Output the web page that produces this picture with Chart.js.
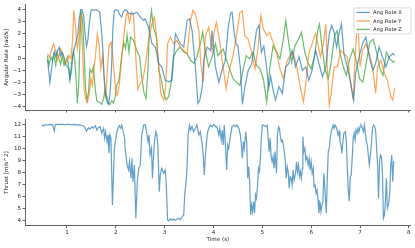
<!DOCTYPE html>
<html>
<head>
<meta charset="utf-8">
<script src="https://cdn.jsdelivr.net/npm/chart.js@4.4.0/dist/chart.umd.min.js"></script>
<style>
  html, body { margin: 0; padding: 0; background: #fff; }
  #wrap { position: relative; width: 415px; height: 248px; }
  #topBox { position: absolute; left: 0; top: 0; }
  #botBox { position: absolute; left: 0; top: 114px; }
</style>
</head>
<body>
<div id="wrap">
  <div id="topBox"><canvas id="rateChart" width="415" height="116"></canvas></div>
  <div id="botBox"><canvas id="thrustChart" width="415" height="134"></canvas></div>
</div>
<script>
// angular rate X (rad/s)
const rateXTime = [0.60,0.63,0.65,0.68,0.71,0.74,0.77,0.80,0.84,0.87,0.90,0.94,0.97,1.01,1.04,1.06,1.09,1.12,1.15,1.18,1.22,1.25,1.28,1.31,1.34,1.37,1.40,1.43,1.46,1.49,1.52,1.56,1.60,1.64,1.67,1.70,1.73,1.76,1.79,1.82,1.85,1.88,1.91,1.94,1.97,2.00,2.04,2.08,2.12,2.15,2.19,2.23,2.27,
  2.36,2.43,2.50,2.57,2.60,2.67,2.74,2.81,2.88,2.94,3.01,3.08,3.15,3.22,3.32,3.39,3.46,3.51,3.56,3.63,3.68,3.72,3.77,3.80,3.87,3.94,3.97,4.04,
  4.11,4.18,4.24,4.30,4.35,4.38,4.42,4.46,4.50,4.55,4.59,4.64,4.71,4.78,4.83,4.88,4.93,4.98,5.03,5.08,5.13,5.17,
  5.22,5.27,5.34,5.41,5.48,5.54,5.61,5.68,5.75,5.82,5.89,5.95,6.02,6.09,6.16,6.23,6.30,6.37,6.42,6.47,6.52,6.57,6.62,6.67,6.74,6.81,6.87,6.91,6.98,7.05,7.12,7.19,7.26,7.32,7.39,7.46,7.53,7.60,7.67,7.71];
const rateX = [-0.1,-1.2,-2.0,-1.0,0.0,0.5,0.1,0.6,0.9,0.2,0.5,0.1,-0.5,-0.7,-0.9,-1.7,-1.1,0.2,0.8,1.3,1.9,3.2,4.0,4.0,3.5,2.0,1.0,1.6,3.0,3.9,4.0,3.95,4.0,3.9,3.8,2.5,1.0,-1.5,-3.0,-3.6,-3.8,-3.0,-1.0,2.5,3.9,4.0,3.95,3.6,3.4,3.8,4.0,3.9,3.7,
  3.66,3.79,3.38,3.11,3.25,2.56,1.2,0.92,-0.44,-0.71,-1.81,-1.94,-1.81,2.02,1.2,0.92,3.11,3.25,2.29,-0.71,-3.72,-3.45,-2.35,-0.17,0.92,0.65,2.29,-0.71,
  -2.0,-0.9,-0.2,2.5,3.7,3.8,2.2,1.2,1.0,-0.8,-3.8,-2.4,-1.0,-0.5,0.8,2.3,2.7,0.5,1.0,-0.5,-2.5,-1.5,
  -2.63,-3.45,-2.35,-2.9,-0.71,-0.44,0.65,-0.71,0.11,-0.99,-0.71,-1.81,-0.99,0.65,-0.44,-1.53,-0.71,2.02,2.7,2.15,0.92,2.02,2.84,0.38,-0.71,-2.08,-3.45,-1.26,0.11,1.2,1.74,0.11,-0.99,-0.44,0.92,0.11,-0.71,0.11,0.38,0.24];

// angular rate Y (rad/s)
const rateYTime = [0.60,0.64,0.67,0.71,0.73,0.77,0.80,0.84,0.87,0.90,0.94,0.97,1.01,1.04,1.08,1.11,1.14,1.18,1.21,1.25,1.28,1.32,1.35,1.38,1.42,1.45,1.49,1.52,1.55,1.59,1.62,1.66,1.69,1.73,1.76,1.79,1.83,1.86,1.90,1.93,1.97,2.00,2.03,2.07,2.10,2.14,2.17,2.21,2.24,2.28,
  2.32,2.36,2.39,2.42,2.45,2.50,2.55,2.60,2.67,2.74,2.79,2.83,2.88,2.92,2.98,3.02,3.06,3.12,3.18,3.25,3.32,3.39,3.46,3.53,3.58,3.63,3.70,3.74,3.79,3.83,3.90,3.97,4.02,
  4.06,4.13,4.20,4.26,4.33,4.40,4.47,4.54,4.59,4.64,4.71,4.78,4.85,4.91,4.97,5.02,5.09,5.15,5.22,5.29,5.36,5.43,5.50,5.56,5.63,5.70,5.77,5.84,
  5.89,5.95,6.02,6.09,6.13,6.19,6.25,6.30,6.33,6.37,6.41,6.47,6.54,6.60,6.67,6.74,6.81,6.86,6.89,6.93,6.96,7.00,7.05,7.12,7.19,7.26,7.32,7.36,7.43,7.50,7.56,7.63,7.67,7.71];
const rateY = [0.35,0.08,0.49,1.04,1.18,0.49,-0.19,0.22,0.76,0.49,-0.05,-0.46,-0.19,0.22,-0.05,1.31,3.95,2.4,0.76,1.86,3.77,0.49,-2.51,-3.33,-3.61,-3.06,-1.69,-2.24,-0.87,0.49,1.99,1.04,-0.87,0.22,-1.69,-3.3,-0.87,1.04,1.31,0.49,-1.42,-2.92,-3.06,-2.24,-0.87,0.76,1.99,3.5,3.77,2.95,
  3.8,3.6,1.5,-0.7,-2.6,-2.08,-1.81,-0.71,1.47,2.84,3.38,2.02,-0.71,-2.9,-3.45,-2.35,1.2,1.74,1.2,1.47,0.92,0.65,0.38,3.11,3.95,3.66,2.29,-0.44,-1.94,1.74,2.56,0.65,2.3,
  2.95,1.31,-0.87,-2.51,-0.87,0.22,1.86,3.77,3.91,1.86,1.58,0.49,-0.87,0.76,3.5,2.4,1.86,2.13,1.31,0.49,-0.87,-1.69,-0.33,0.22,0.49,-0.6,-2.24,-3.61,
  -2.08,0.38,1.2,2.02,1.33,0.11,1.2,2.8,-0.71,-3.86,-2.9,-0.71,-0.71,0.65,0.38,0.11,-2.08,-3.45,-0.71,2.02,2.84,-0.71,0.65,1.2,0.38,-0.71,-2.9,-0.71,-0.17,-1.26,-1.81,-3.17,-3.45,-2.49];

// angular rate Z (rad/s)
const rateZTime = [0.60,0.63,0.67,0.70,0.73,0.77,0.80,0.84,0.87,0.90,0.94,0.97,1.01,1.04,1.06,1.09,1.13,1.16,1.19,1.21,1.24,1.27,1.29,1.32,1.35,1.38,1.41,1.44,1.47,1.51,1.54,1.58,1.61,1.64,1.68,1.71,1.75,1.78,1.81,1.85,1.88,1.92,1.95,1.99,2.02,2.06,2.09,2.12,2.16,2.20,2.23,2.27,
  2.30,2.36,2.43,2.49,2.53,2.58,2.62,2.66,2.69,2.73,2.77,2.83,2.88,2.92,2.98,3.03,3.08,3.13,3.18,3.25,3.32,3.39,3.46,3.53,3.60,3.66,3.73,3.78,3.83,3.90,3.97,4.04,
  4.09,4.20,4.26,4.33,4.40,4.47,4.54,4.61,4.67,4.74,4.81,4.88,4.95,5.02,5.09,5.15,5.22,5.29,5.36,5.43,5.48,5.53,5.60,5.67,5.74,5.80,
  5.87,5.93,6.00,6.07,6.14,6.17,6.22,6.28,6.35,6.41,6.48,6.53,6.59,6.65,6.72,6.79,6.86,6.93,6.99,7.06,7.13,7.20,7.27,7.34,7.41,7.47,7.54,7.61,7.68,7.71];
const rateZ = [0.2,-0.6,0.1,-0.2,0.3,-0.6,0.5,-0.1,-0.5,0.2,-0.6,-0.3,0.1,-1.1,-1.8,-0.5,0.6,-0.2,-2.0,-3.7,-2.2,2.0,3.9,3.0,0.5,-2.5,-3.5,-2.8,-0.9,-1.2,-0.7,-2.6,-3.5,-3.6,-3.7,-3.8,-3.3,-2.6,-3.1,-3.7,-3.8,-3.5,-3.7,-3.1,-2.2,-1.9,-0.9,0.2,1.3,0.8,1.9,0.5,
  1.74,1.47,0.65,0.11,-1.53,-2.9,-3.31,-0.71,2.56,3.93,2.56,1.74,-0.99,-1.53,-2.9,-3.45,-3.17,-2.08,0.11,0.65,0.92,0.52,0.38,-0.17,-0.44,0.11,1.2,2.15,0.65,-0.71,0.11,1.2,
  0.22,0.76,-0.05,-0.87,-1.69,-1.97,-2.24,-0.87,0.22,-0.05,0.49,-0.6,-0.87,-1.69,-3.61,-0.87,1.04,0.49,-0.05,1.58,3.09,1.58,-0.33,1.04,1.58,2.13,
  0.49,-0.33,-0.87,0.22,2.4,2.81,1.04,-0.87,-1.69,-0.33,1.86,2.27,0.49,-0.6,-1.42,-0.05,0.76,-0.33,-1.69,-1.97,-0.33,1.31,1.58,0.49,-0.87,-1.42,0.49,-0.05,-0.33,-0.19];

// thrust trace (m/s^2)
const thrustTime = [0.48,0.52,0.56,0.60,0.65,0.70,0.74,0.76,0.80,0.85,0.90,0.95,1.00,1.05,1.10,1.15,1.20,1.25,1.30,1.35,1.40,1.44,1.47,1.51,1.54,1.58,1.61,1.64,1.68,1.71,1.75,1.77,1.79,1.82,1.84,1.86,1.88,1.90,1.93,1.97,2.00,2.03,2.07,2.10,2.12,2.16,2.18,2.19,2.23,2.26,2.28,2.31,2.33,2.35,2.38,2.41,2.44,2.47,2.50,2.53,2.57,2.60,2.64,2.66,2.68,2.70,2.73,2.75,2.77,2.79,2.82,2.84,2.86,2.89,2.91,2.94,2.98,3.01,3.03,3.06,3.08,3.12,3.15,3.18,3.22,3.25,3.29,3.32,3.36,3.39,3.41,3.44,3.46,3.48,3.51,3.53,3.56,3.59,3.63,3.66,3.70,3.73,3.77,3.79,3.81,3.83,3.87,3.90,3.94,3.97,4.01,4.04,4.07,4.11,4.13,4.16,4.18,4.20,4.22,4.24,4.27,4.29,4.31,4.35,4.38,4.42,4.45,4.48,4.52,4.55,4.57,4.59,4.61,4.63,4.66,4.68,4.70,4.72,4.74,4.76,4.78,4.80,4.82,4.84,4.86,4.88,4.90,4.92,4.94,4.96,4.98,5.00,5.03,5.07,5.10,5.12,5.14,5.16,5.18,5.20,5.22,5.24,5.26,5.29,5.31,5.33,5.35,5.37,5.39,5.41,5.43,5.45,5.47,5.49,5.51,5.53,5.55,5.57,5.59,5.61,5.63,5.65,5.68,5.70,5.72,5.74,5.76,5.78,5.80,5.82,5.83,5.85,5.87,5.89,5.91,5.94,5.96,5.98,6.00,6.02,6.04,6.06,6.08,6.10,6.12,6.14,6.16,6.18,6.20,6.22,6.24,6.26,6.28,6.31,6.33,6.35,6.37,6.39,6.41,6.43,6.45,6.47,6.49,6.51,6.53,6.55,6.57,6.59,6.61,6.63,6.65,6.67,6.70,6.72,6.74,6.76,6.78,6.80,6.82,6.84,6.86,6.88,6.90,6.92,6.94,6.96,6.98,7.00,7.02,7.05,7.07,7.09,7.11,7.13,7.15,7.17,7.19,7.22,7.24,7.26,7.28,7.30,7.32,7.34,7.36,7.38,7.40,7.42,7.44,7.46,7.48,7.50,7.52,7.54,7.56,7.59,7.61,7.63,7.65,7.67,7.69,7.70];
const thrustValue = [11.95,11.85,11.97,11.93,12.0,11.98,11.45,11.98,12.0,12.0,12.0,11.98,12.0,12.0,11.95,12.0,11.93,11.97,11.9,11.85,11.45,11.72,11.61,11.81,11.67,11.89,11.53,11.72,11.81,11.26,11.67,10.84,11.39,10.57,11.12,9.6,11.12,10.84,5.33,10.0,10.84,11.53,11.89,11.67,11.94,11.26,10.84,10.0,8.64,8.22,8.91,7.54,9.19,7.26,8.64,4.23,7.26,8.36,8.64,11.12,11.94,12.0,11.12,10.57,11.12,9.46,10.0,7.54,9.19,10.57,11.39,11.12,10.29,6.43,7.81,8.36,7.95,8.22,7.26,4.09,4.0,4.17,4.06,4.17,4.06,4.15,4.23,4.12,4.37,4.5,6.16,7.26,8.64,11.12,11.94,11.53,11.81,11.39,11.67,11.94,11.12,11.39,10.29,9.46,7.81,9.19,11.12,11.67,11.94,11.81,12.0,11.8,11.81,11.12,11.67,10.7,11.53,10.29,11.94,10.57,8.22,10.29,10.0,11.12,11.81,11.94,11.81,11.94,11.67,11.12,10.29,9.19,10.57,10.0,11.39,10.57,7.54,8.5,7.26,4.5,5.33,4.78,5.61,4.64,6.16,5.88,6.85,8.36,8.09,9.19,10.98,11.94,11.94,11.81,11.94,10.84,9.74,10.84,9.33,8.91,9.33,8.36,9.74,7.95,11.12,11.81,11.67,10.98,10.57,10.7,10.29,9.74,8.91,7.54,8.5,8.09,6.71,7.67,7.54,6.98,8.22,7.4,7.95,8.91,8.09,8.64,7.67,8.09,7.54,8.36,10.98,9.74,10.0,9.05,9.33,8.64,9.19,8.22,8.91,7.95,8.36,6.85,6.98,6.3,6.57,5.75,4.64,5.61,4.78,5.33,5.61,7.95,6.71,4.64,7.54,9.74,10.0,10.84,11.39,11.67,11.94,11.67,11.94,11.81,11.53,11.12,11.39,10.57,10.29,9.6,10.57,11.26,11.39,10.57,8.36,6.57,5.61,7.67,7.81,9.19,10.84,11.26,10.7,11.53,11.26,11.67,11.39,11.81,11.94,11.67,11.39,11.94,11.26,10.57,10.29,9.46,8.64,9.74,10.84,11.81,11.94,11.81,11.53,10.0,8.64,5.88,8.91,9.46,9.33,7.81,4.23,4.5,5.61,7.54,5.06,5.47,6.43,8.64,9.46,7.26,8.91,8.91];

const timeTicks = [1, 2, 3, 4, 5, 6, 7, 8];
const rateTicks = [-4, -3, -2, -1, 0, 1, 2, 3, 4];
const thrustTicks = [4, 5, 6, 7, 8, 9, 10, 11, 12];

const seriesNames = ['Ang Rate X', 'Ang Rate Y', 'Ang Rate Z'];
const seriesColors = ['rgba(31,119,180,0.7)', 'rgba(255,127,14,0.7)', 'rgba(44,160,44,0.7)'];

const textColor = '#262626';
const axisColor = '#3a3a3a';
const tickFont = { family: 'DejaVu Sans', size: 5.6 };

function minusFmt(v) {
  return v < 0 ? '\u2212' + Math.abs(v) : String(v);
}

function pairs(xs, ys) {
  return xs.map((x, i) => ({ x: x, y: ys[i] }));
}

function lineSet(label, xs, ys, color) {
  return {
    label: label,
    data: pairs(xs, ys),
    borderColor: color,
    borderWidth: 1.2,
    pointRadius: 0,
    tension: 0,
    fill: false
  };
}

function axisGrid() {
  return { display: true, drawOnChartArea: false, drawTicks: true, tickLength: 2.5, color: axisColor, lineWidth: 0.8 };
}

// legend box drawn inside the plot, top right (matplotlib style)
const innerLegend = {
  id: 'innerLegend',
  afterDraw(chart) {
    const ctx = chart.ctx;
    const area = chart.chartArea;
    const w = 57, h = 26;
    const x = area.right - w + 0.2, y = area.top + 3;
    ctx.save();
    ctx.beginPath();
    ctx.roundRect(x, y, w, h, 1.5);
    ctx.fillStyle = 'rgba(255,255,255,0.85)';
    ctx.fill();
    ctx.strokeStyle = '#d0d0d0';
    ctx.lineWidth = 0.8;
    ctx.stroke();
    ctx.font = '5.2px "DejaVu Sans"';
    ctx.textBaseline = 'middle';
    chart.data.datasets.forEach((ds, i) => {
      const ry = y + 4.6 + i * 8.5;
      ctx.beginPath();
      ctx.moveTo(x + 2.5, ry);
      ctx.lineTo(x + 16, ry);
      ctx.strokeStyle = ds.borderColor;
      ctx.lineWidth = 1.3;
      ctx.stroke();
      ctx.fillStyle = textColor;
      ctx.fillText(ds.label, x + 19, ry + 0.3);
    });
    ctx.restore();
  }
};

new Chart(document.getElementById('rateChart'), {
  type: 'line',
  data: {
    datasets: [
      lineSet(seriesNames[0], rateXTime, rateX, seriesColors[0]),
      lineSet(seriesNames[1], rateYTime, rateY, seriesColors[1]),
      lineSet(seriesNames[2], rateZTime, rateZ, seriesColors[2])
    ]
  },
  options: {
    responsive: false,
    animation: false,
    devicePixelRatio: 1,
    layout: { padding: { left: 0, right: 4.2, top: 4.1, bottom: 0 } },
    plugins: { legend: { display: false }, tooltip: { enabled: false } },
    scales: {
      x: {
        type: 'linear', min: 0.14, max: 8.04,
        afterBuildTicks: s => { s.ticks = timeTicks.map(v => ({ value: v })); },
        afterFit: s => { s.height = 6; },
        grid: axisGrid(),
        border: { display: true, color: axisColor, width: 0.8 },
        ticks: { display: false }
      },
      y: {
        min: -4.27, max: 4.4,
        afterBuildTicks: s => { s.ticks = rateTicks.map(v => ({ value: v })); },
        afterFit: s => { s.width = 25; },
        grid: axisGrid(),
        border: { display: true, color: axisColor, width: 0.8 },
        ticks: { font: tickFont, color: textColor, padding: 1.5, callback: minusFmt },
        title: { display: true, text: 'Angular Rate [rad/s]', font: tickFont, color: textColor, padding: { top: 3.6, bottom: 0 } }
      }
    }
  },
  plugins: [innerLegend]
});

new Chart(document.getElementById('thrustChart'), {
  type: 'line',
  data: {
    datasets: [lineSet('Thrust', thrustTime, thrustValue, seriesColors[0])]
  },
  options: {
    responsive: false,
    animation: false,
    devicePixelRatio: 1,
    layout: { padding: { left: 0, right: 4.2, top: 5.5, bottom: 0 } },
    plugins: { legend: { display: false }, tooltip: { enabled: false } },
    scales: {
      x: {
        type: 'linear', min: 0.14, max: 8.04,
        afterBuildTicks: s => { s.ticks = timeTicks.map(v => ({ value: v })); },
        afterFit: s => { s.height = 22.3; },
        grid: axisGrid(),
        border: { display: true, color: axisColor, width: 0.8 },
        ticks: { font: tickFont, color: textColor, padding: 0.5, maxRotation: 0 },
        title: { display: true, text: 'Time (s)', font: tickFont, color: textColor, padding: { top: 4.6, bottom: 4.6 } }
      },
      y: {
        min: 3.61, max: 12.4,
        afterBuildTicks: s => { s.ticks = thrustTicks.map(v => ({ value: v })); },
        afterFit: s => { s.width = 25; },
        grid: axisGrid(),
        border: { display: true, color: axisColor, width: 0.8 },
        ticks: { font: tickFont, color: textColor, padding: 1.5 },
        title: { display: true, text: 'Thrust [m/s^2]', font: tickFont, color: textColor, padding: { top: 3.6, bottom: 0 } }
      }
    }
  }
});
</script>
</body>
</html>
